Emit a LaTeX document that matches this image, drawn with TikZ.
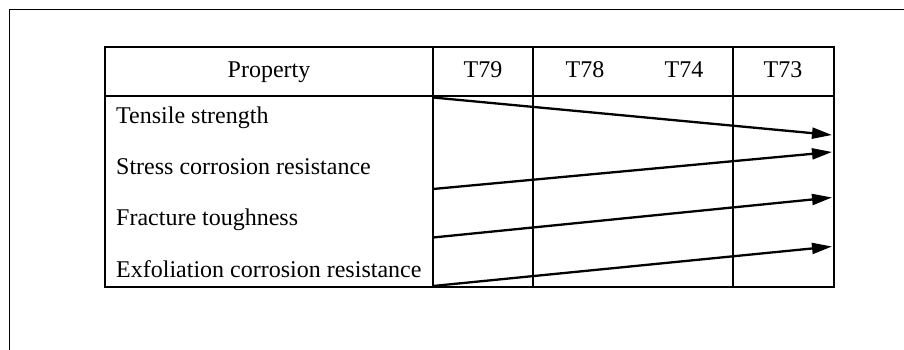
\documentclass[tikz,border=0pt]{standalone}
\usepackage{fontspec}
\setmainfont{Liberation Serif}
\usetikzlibrary{arrows.meta}
\begin{document}
\begin{tikzpicture}[x=1pt,y=-1pt,
  grid/.style={line width=1.1pt},
  lbl/.style={inner sep=0pt, font=\fontsize{24}{28}\selectfont},
  trend/.style={line width=2.3pt, -{Triangle[length=20pt,width=11pt]}}]
\useasboundingbox (0,0) rectangle (904,350);
% outer frame (only top and left edges visible)
\coordinate (fr) at (904,10);
\coordinate (fc) at (9,10);
\coordinate (fb) at (9,350);
\draw[line width=1pt] (fr) -- (fc) -- (fb);
% table
\coordinate (tl) at (105,47);
\coordinate (br) at (834,287);
\draw[grid] (tl) rectangle (br);
\coordinate (hl) at (105,96);
\coordinate (hr) at (834,96);
\draw[grid] (hl) -- (hr);
\coordinate (c1t) at (433,47); \coordinate (c1b) at (433,287);
\coordinate (c2t) at (533,47); \coordinate (c2b) at (533,287);
\coordinate (c3t) at (733,47); \coordinate (c3b) at (733,287);
\draw[grid] (c1t) -- (c1b);
\draw[grid] (c2t) -- (c2b);
\draw[grid] (c3t) -- (c3b);
% header
\node[lbl, anchor=base] (hprop) at (269,78) {Property};
\node[lbl, anchor=base] (h79) at (483,78) {T79};
\node[lbl, anchor=base] (h78) at (585,78) {T78};
\node[lbl, anchor=base] (h74) at (684,78) {T74};
\node[lbl, anchor=base] (h73) at (783,78) {T73};
% rows
\node[lbl, anchor=base west] (r1) at (116,123.5) {Tensile strength};
\node[lbl, anchor=base west] (r2) at (116,174.5) {Stress corrosion resistance};
\node[lbl, anchor=base west] (r3) at (116,225.5) {Fracture toughness};
\node[lbl, anchor=base west] (r4) at (116,277) {Exfoliation corrosion resistance};
% trend arrows
\coordinate (a1s) at (433,97.5);  \coordinate (a1e) at (832,135);
\coordinate (a2s) at (433,189);   \coordinate (a2e) at (832,152);
\coordinate (a3s) at (433,237.5); \coordinate (a3e) at (832,197.5);
\coordinate (a4s) at (433,286);   \coordinate (a4e) at (832,246.5);
\draw[trend] (a1s) -- (a1e);
\draw[trend] (a2s) -- (a2e);
\draw[trend] (a3s) -- (a3e);
\draw[trend] (a4s) -- (a4e);
\end{tikzpicture}
\end{document}
